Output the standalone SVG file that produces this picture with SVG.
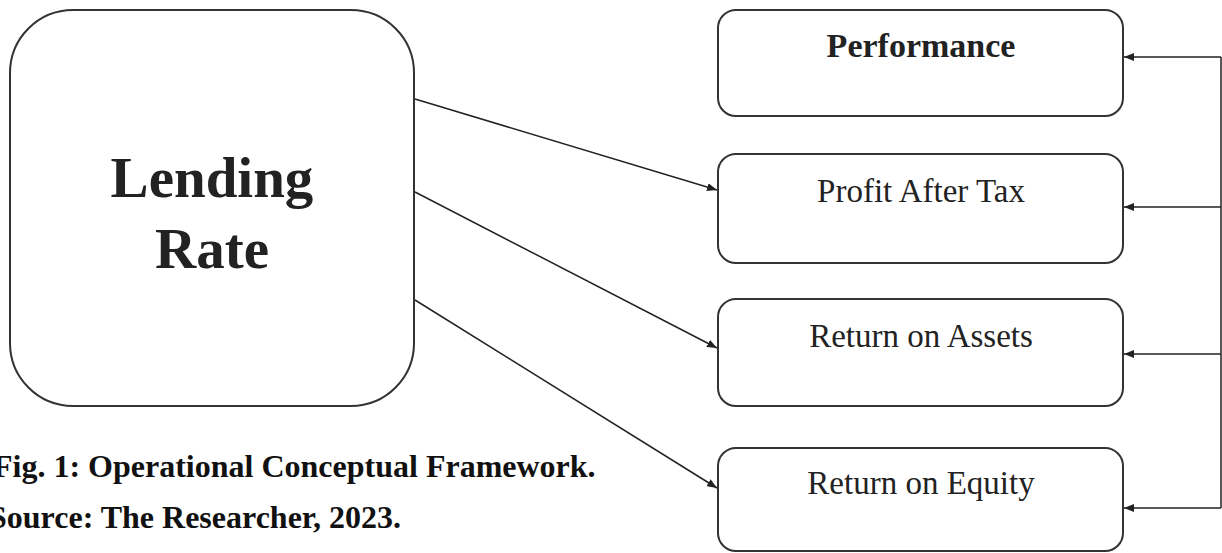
<svg xmlns="http://www.w3.org/2000/svg" width="1222" height="553" viewBox="0 0 1222 553">
<style>
.box{fill:#fff;stroke:#333;stroke-width:2}
.lbl{font-family:"Liberation Serif","Times New Roman",serif;fill:#222;text-anchor:middle}
.b{font-weight:bold}
.cap{font-family:"Liberation Serif","Times New Roman",serif;font-weight:bold;fill:#111;font-size:32px}
.con{fill:none;stroke:#222;stroke-width:1.5;marker-end:url(#ah)}
</style>
<defs>
<marker id="ah" viewBox="0 0 10 8" refX="10" refY="4" markerWidth="10" markerHeight="8" markerUnits="userSpaceOnUse" orient="auto">
<path d="M0,0 L10,4 L0,8 Z" fill="#222"/>
</marker>
</defs>
<rect width="1222" height="553" fill="#fff"/>
<g id="lending-rate">
<rect class="box" x="10" y="10" width="404" height="396" rx="63" ry="63"/>
<text class="lbl b" x="212" y="197" font-size="57">Lending</text>
<text class="lbl b" x="212" y="268" font-size="57">Rate</text>
</g>
<g id="performance">
<rect class="box" x="718" y="10" width="405" height="106" rx="18" ry="18"/>
<text class="lbl b" x="921" y="57" font-size="34">Performance</text>
</g>
<g id="profit-after-tax">
<rect class="box" x="718" y="154" width="405" height="109" rx="18" ry="18"/>
<text class="lbl" x="921" y="202" font-size="33">Profit After Tax</text>
</g>
<g id="return-on-assets">
<rect class="box" x="718" y="299" width="405" height="107" rx="18" ry="18"/>
<text class="lbl" x="921" y="347" font-size="33">Return on Assets</text>
</g>
<g id="return-on-equity">
<rect class="box" x="718" y="448" width="405" height="103" rx="18" ry="18"/>
<text class="lbl" x="921" y="494" font-size="33">Return on Equity</text>
</g>
<g id="connectors">
<line class="con" x1="415" y1="99" x2="717" y2="190"/>
<line class="con" x1="415" y1="192" x2="717" y2="348"/>
<line class="con" x1="415" y1="300" x2="717" y2="488"/>
<line x1="1221" y1="57" x2="1221" y2="508" stroke="#222" stroke-width="1.5"/>
<line class="con" x1="1221" y1="57" x2="1124" y2="57"/>
<line class="con" x1="1221" y1="207" x2="1124" y2="207"/>
<line class="con" x1="1221" y1="354" x2="1124" y2="354"/>
<line class="con" x1="1221" y1="508" x2="1124" y2="508"/>
</g>
<g id="caption">
<text class="cap" x="-7" y="477">Fig. 1: Operational Conceptual Framework.</text>
<text class="cap" x="-11" y="528">Source: The Researcher, 2023.</text>
</g>
</svg>
